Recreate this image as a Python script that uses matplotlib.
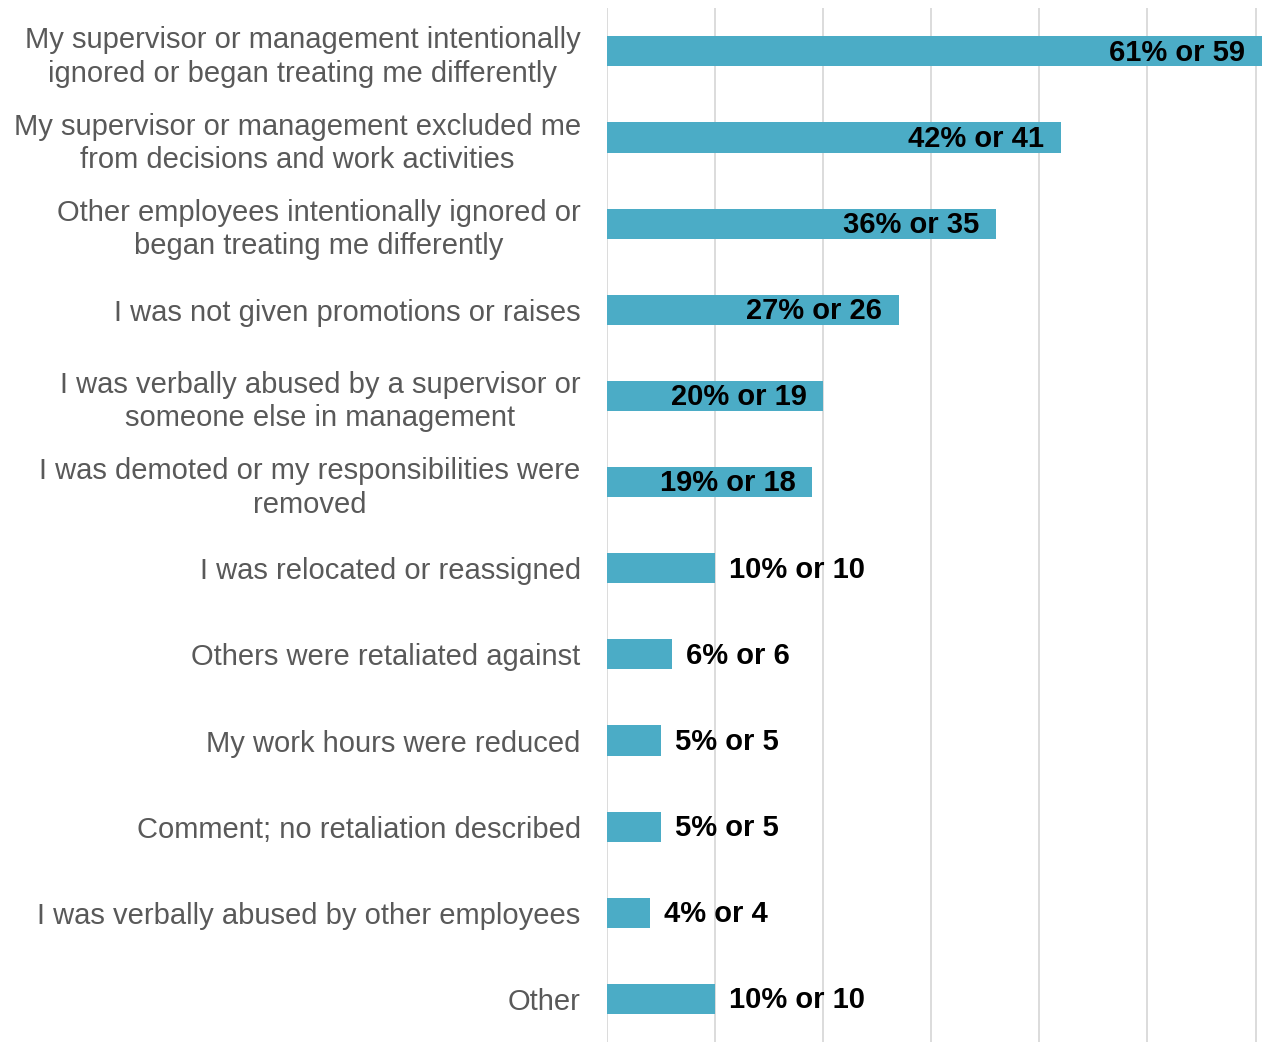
import matplotlib
matplotlib.use("Agg")
import matplotlib.pyplot as plt
import numpy as np

# Forms of retaliation reported, share of respondents and count
categories = [
    "My supervisor or management intentionally\nignored or began treating me differently",
    "My supervisor or management excluded me\nfrom decisions and work activities",
    "Other employees intentionally ignored or\nbegan treating me differently",
    "I was not given promotions or raises",
    "I was verbally abused by a supervisor or\nsomeone else in management",
    "I was demoted or my responsibilities were\nremoved",
    "I was relocated or reassigned",
    "Others were retaliated against",
    "My work hours were reduced",
    "Comment; no retaliation described",
    "I was verbally abused by other employees",
    "Other",
]
percents = [61, 42, 36, 27, 20, 19, 10, 6, 5, 5, 4, 10]
counts = [59, 41, 35, 26, 19, 18, 10, 6, 5, 5, 4, 10]

BAR_COLOR = "#4BACC6"
LABEL_GRAY = "#595959"
GRID_GRAY = "#D9D9D9"
FS = 21

plt.rcParams["font.family"] = ["Liberation Sans", "DejaVu Sans"]

fig = plt.figure(figsize=(12.62, 10.42), dpi=100)
ax = fig.add_axes([0.481, 0.0, 0.519, 0.992])

y = np.arange(len(categories))
ax.barh(y, percents, height=0.35, color=BAR_COLOR, zorder=2)

# big bars carry their label inside, short ones just past the end
for yi, p, c in zip(y, percents, counts):
    text = f"{p}% or {c}"
    if p >= 19:
        ax.annotate(text, (min(p, 60.6), yi), xytext=(-12, -1),
                    textcoords="offset points", ha="right", va="center",
                    fontsize=FS, fontweight="bold", color="black", zorder=3)
    else:
        ax.annotate(text, (p, yi), xytext=(10, -1),
                    textcoords="offset points", ha="left", va="center",
                    fontsize=FS, fontweight="bold", color="black", zorder=3)

ax.set_xlim(0, 60.6)
ax.set_ylim(len(categories) - 0.5, -0.5)
ax.set_xticks(np.arange(0, 61, 10))
ax.xaxis.grid(True, color=GRID_GRAY, linewidth=1.3, zorder=0)
ax.tick_params(axis="x", length=0, labelbottom=False)
ax.tick_params(axis="y", length=0, pad=19)
ax.set_yticks(y)
ax.set_yticklabels(categories, fontsize=FS, color=LABEL_GRAY,
                   multialignment="center", linespacing=1.25)
for s in ax.spines.values():
    s.set_visible(False)

fig.savefig("out.png", dpi=100, facecolor="white")
